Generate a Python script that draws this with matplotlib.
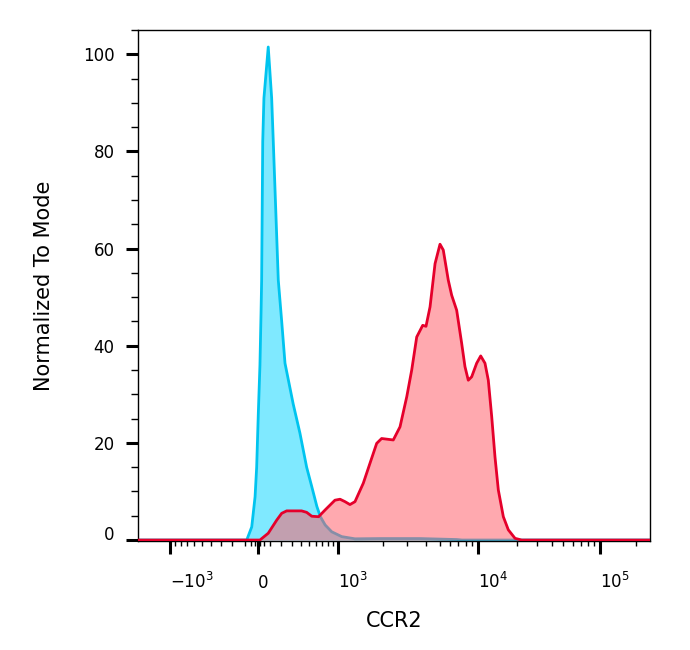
import numpy as np
import matplotlib
matplotlib.use('Agg')
import matplotlib.pyplot as plt

plt.rcParams['mathtext.default'] = 'regular'

# histogram of the isotype control (blue) - CCR2 intensity vs % of mode
iso_ccr2 = [-1800, -85, -47, -22, -10, 2.5, 16, 25, 30, 39, 49, 85, 114, 128, 172, 203,
            234, 316, 390, 471, 539, 613, 667, 747, 868, 1061, 1305, 1909, 3672, 6780,
            7474, 262144]
iso_mode = [0, 0, 2.7, 8.9, 15, 26, 36, 46.7, 53.5, 82, 91, 101.5, 91, 82, 53.5, 45,
            36.4, 28, 22, 15, 11, 6.9, 4.8, 3.1, 1.7, 0.7, 0.25, 0.3, 0.3, 0.1,
            0, 0]

# histogram of the CCR2 stained sample (red)
ccr2_x = [-1800, 16, 85, 158, 203, 250, 409, 471, 539, 639, 747, 934, 1033, 1117, 1207,
          1305, 1483, 1642, 1818, 1959, 2381, 2667, 2988, 3228, 3488, 3828, 4027, 4287,
          4632, 5000, 5309, 5816, 6188, 6780, 7425, 7885, 8376, 8912, 9761, 10500, 11340,
          12040, 12800, 13580, 14420, 15780, 17260, 19480, 22140, 262144]
ccr2_mode = [0, 0, 1.4, 4.1, 5.5, 6.0, 6.0, 5.7, 4.9, 4.8, 6.2, 8.2, 8.4, 7.9, 7.3,
             7.9, 11.7, 15.8, 19.9, 20.9, 20.6, 23.3, 29.5, 35, 41.8, 44.2, 44.0, 48,
             56.9, 60.9, 59.7, 53.5, 50.4, 47.3, 40.5, 35.7, 32.9, 33.6, 36.4, 37.9, 36.4,
             32.9, 25.4, 17.1, 10.3, 4.8, 2.1, 0.35, 0, 0]

x_major = [-1000, 0, 1000, 10000, 100000]
x_major_labels = ['$-10^{3}$', '0', '$10^{3}$', '$10^{4}$', '$10^{5}$']
x_minor = (list(range(-900, 0, 100)) + [-50, -20, 20, 50] + list(range(100, 1000, 100))
           + list(range(2000, 10000, 1000)) + list(range(20000, 100000, 10000)) + [200000])

# biexponential-like axis: asinh, calibrated against the tick marks of the original
cal_vals = np.array([-1800, -1000, 0, 1000, 2000, 3000, 5000, 10000, 20000, 50000, 100000, 262144])
cal_pos = np.array([138, 170, 258, 338, 383, 407, 440, 478, 516.5, 563, 600, 650])
cal_g = np.arcsinh(cal_vals / 400.0)


def interp_ext(x, xp, fp):
    x = np.asarray(x, dtype=float)
    y = np.interp(x, xp, fp)
    y = np.where(x < xp[0], fp[0] + (x - xp[0]) * (fp[1] - fp[0]) / (xp[1] - xp[0]), y)
    y = np.where(x > xp[-1], fp[-1] + (x - xp[-1]) * (fp[-1] - fp[-2]) / (xp[-1] - xp[-2]), y)
    return y


def forward(v):
    return interp_ext(np.arcsinh(np.asarray(v, dtype=float) / 400.0), cal_g, cal_pos)


def inverse(p):
    return 400.0 * np.sinh(interp_ext(p, cal_pos, cal_g))


fig = plt.figure(figsize=(6.9, 6.5), dpi=100)
ax = fig.add_axes([138 / 690, 109 / 650, 512 / 690, 511 / 650])
ax.set_xscale('function', functions=(forward, inverse))

# blue control first, red sample drawn over it
ax.fill_between(iso_ccr2, iso_mode, 0, color='#00d4ff', alpha=0.5, lw=0, zorder=1)
ax.plot(iso_ccr2, iso_mode, color='#00c4ef', lw=2.0, zorder=1.5)
ax.fill_between(ccr2_x, ccr2_mode, 0, color='#ff5e68', alpha=0.53, lw=0, zorder=2)
ax.plot(ccr2_x, ccr2_mode, color='#e5002b', lw=2.0, zorder=3)

ax.set_xlim(-1800, 262144)
ax.set_ylim(-0.2, 105)

ax.set_xticks(x_major, x_major_labels, ha='left', va='baseline')
ax.set_xticks(x_minor, minor=True)
ax.set_yticks([0, 20, 40, 60, 80, 100])
ax.set_yticks(np.arange(5, 106, 5), minor=True)
ax.get_yticklabels()[0].set_va('baseline')

ax.tick_params(which='major', length=9, width=2.2, labelsize=12, color='black')
ax.tick_params(axis='y', which='major', pad=8)
ax.tick_params(axis='x', which='major', pad=24.5)
ax.tick_params(axis='y', which='minor', length=5, width=1)
ax.tick_params(axis='x', which='minor', length=3.5, width=1)

for sp in ax.spines.values():
    sp.set_linewidth(1.0)
    sp.set_color('black')

ax.set_xlabel('CCR2', fontsize=15)
ax.set_ylabel('Normalized To Mode', fontsize=15)
ax.xaxis.set_label_coords(0.5, -0.137)
ax.yaxis.set_label_coords(-0.164, 0.5)

fig.savefig('out.png', dpi=100)
